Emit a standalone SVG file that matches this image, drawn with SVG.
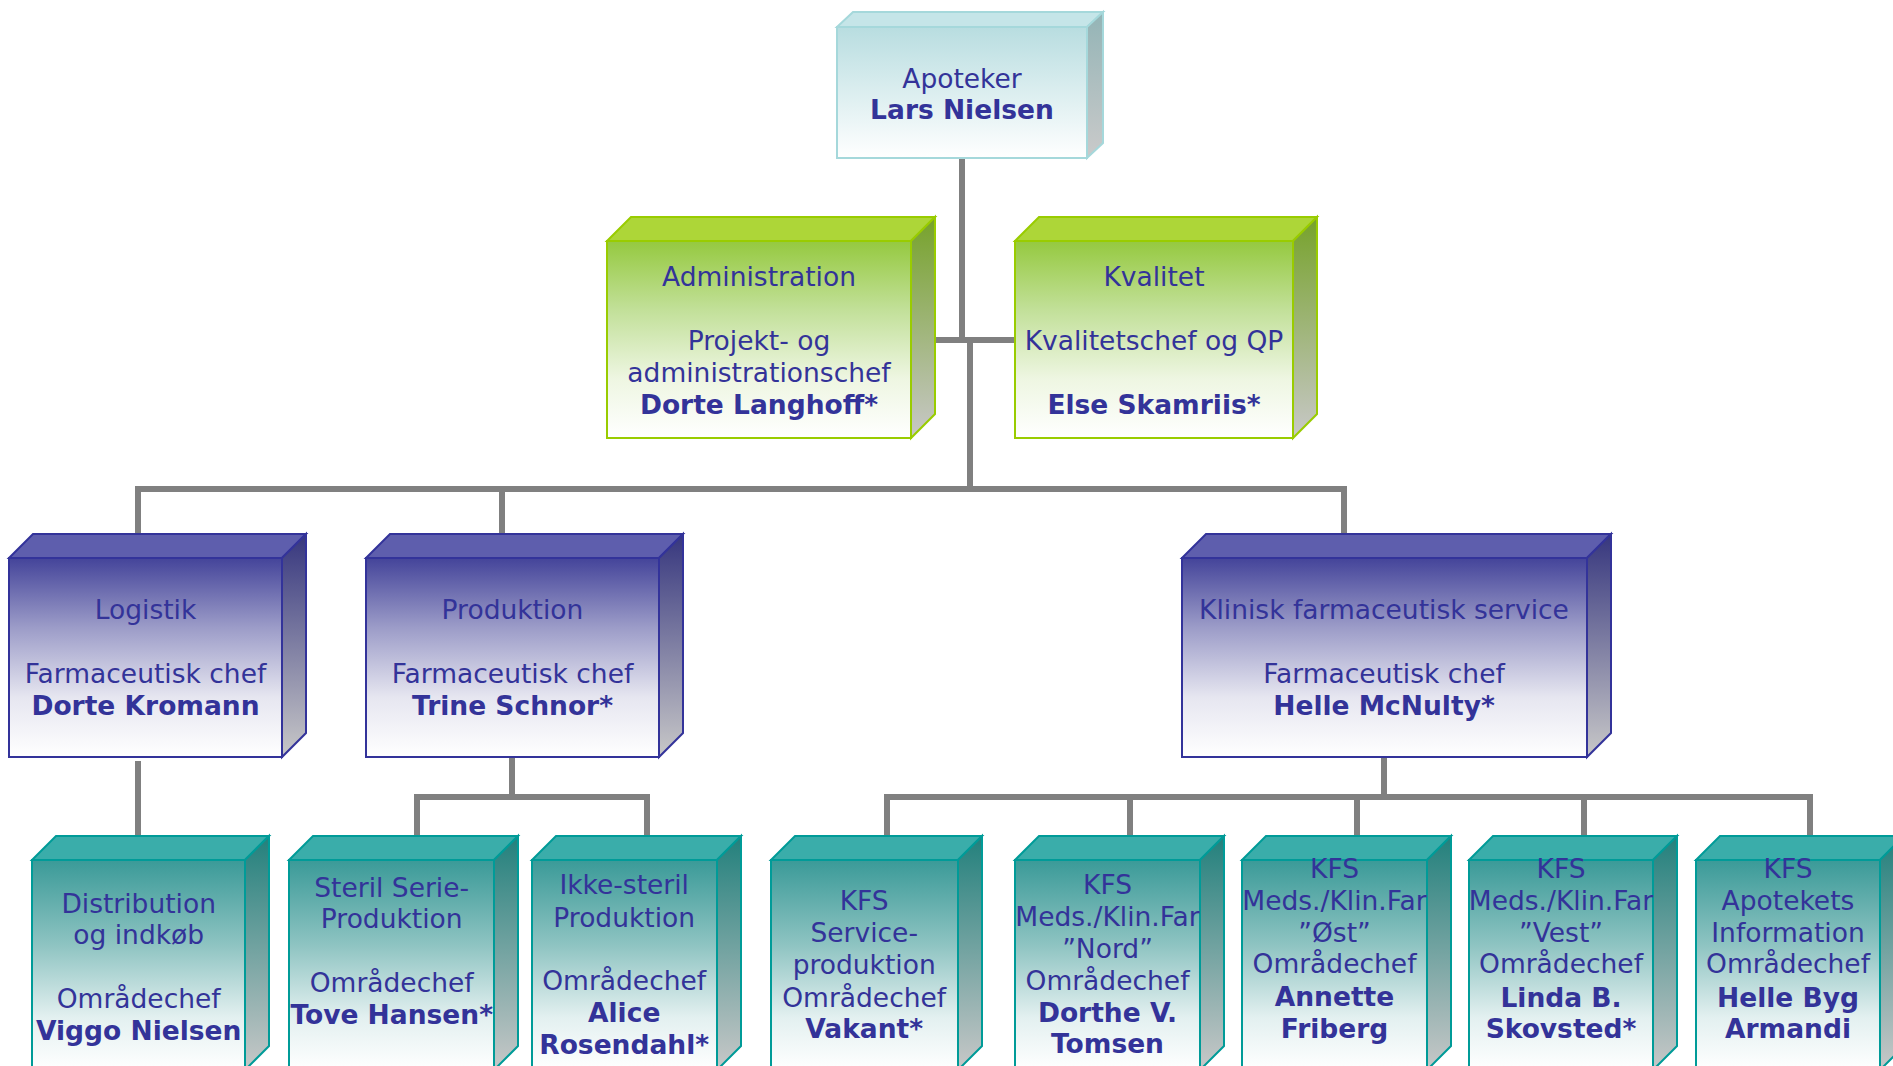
<svg xmlns="http://www.w3.org/2000/svg" width="1893" height="1066" viewBox="0 0 1893 1066">
<defs>
<linearGradient id="fC" x1="0" y1="0" x2="0" y2="1"><stop offset="0" stop-color="#B8DDE0"/><stop offset="1" stop-color="#FFFFFF"/></linearGradient>
<linearGradient id="sC" x1="0" y1="0" x2="0" y2="1"><stop offset="0" stop-color="#93B4B6"/><stop offset="1" stop-color="#CACACA"/></linearGradient>
<linearGradient id="fG" x1="0" y1="0" x2="0" y2="1"><stop offset="0" stop-color="#95C93F"/><stop offset="0.35" stop-color="#C2E099"/><stop offset="0.7" stop-color="#EEF6E2"/><stop offset="1" stop-color="#FFFFFF"/></linearGradient>
<linearGradient id="sG" x1="0" y1="0" x2="0" y2="1"><stop offset="0" stop-color="#76A22A"/><stop offset="1" stop-color="#C8C8C8"/></linearGradient>
<linearGradient id="fB" x1="0" y1="0" x2="0" y2="1"><stop offset="0" stop-color="#44449A"/><stop offset="0.35" stop-color="#9C9CC8"/><stop offset="0.7" stop-color="#E6E6F0"/><stop offset="1" stop-color="#FFFFFF"/></linearGradient>
<linearGradient id="sB" x1="0" y1="0" x2="0" y2="1"><stop offset="0" stop-color="#36367E"/><stop offset="1" stop-color="#C8C8C8"/></linearGradient>
<linearGradient id="fT" x1="0" y1="0" x2="0" y2="1"><stop offset="0" stop-color="#3A9A98"/><stop offset="0.4" stop-color="#8DC3C1"/><stop offset="0.75" stop-color="#E3F0F0"/><stop offset="1" stop-color="#FFFFFF"/></linearGradient>
<linearGradient id="sT" x1="0" y1="0" x2="0" y2="1"><stop offset="0" stop-color="#22807C"/><stop offset="1" stop-color="#C8C8C8"/></linearGradient>
</defs>
<style>
.c { stroke-width: 2; stroke-linejoin: miter; }
.cy { stroke: #A5D8DB; }
.gr { stroke: #99CC00; }
.bl { stroke: #33339A; }
.te { stroke: #009B98; }
.topC { fill: #C5E5E8; } .topG { fill: #ADD638; } .topB { fill: #5E5EAD; } .topT { fill: #3AADAA; }
text { font-family: "DejaVu Sans", Verdana, sans-serif; font-size: 26.5px; fill: #333399; text-anchor: middle; }
.b { font-weight: bold; }
.conn path { fill: none; stroke: #808080; stroke-width: 6; stroke-linejoin: miter; }
</style>
<g class="conn" id="connectors">
<path d="M962,158 V340"/>
<path d="M935,340 H1015"/>
<path d="M970,340 V489"/>
<path d="M138,534 V489 H1344 V534"/>
<path d="M502,489 V534"/>
<path d="M138,761 V836"/>
<path d="M512,757 V797"/>
<path d="M417,836 V797 H647 V836"/>
<path d="M1384,757 V797"/>
<path d="M887,836 V797 H1810 V836"/>
<path d="M1130,797 V836"/>
<path d="M1357,797 V836"/>
<path d="M1584,797 V836"/>
</g>
<g id="apoteker">
<polygon class="c cy topC" points="837,27 853,12 1103,12 1087,27"/>
<polygon class="c cy" fill="url(#sC)" points="1087,27 1103,12 1103,143 1087,158"/>
<rect class="c cy" fill="url(#fC)" x="837" y="27" width="250" height="131"/>
<text x="962" y="88">Apoteker</text>
<text class="b" x="962" y="119">Lars Nielsen</text>
</g>
<g id="administration">
<polygon class="c gr topG" points="607,241 631,217 935,217 911,241"/>
<polygon class="c gr" fill="url(#sG)" points="911,241 935,217 935,414 911,438"/>
<rect class="c gr" fill="url(#fG)" x="607" y="241" width="304" height="197"/>
<text x="759" y="286">Administration</text>
<text x="759" y="350">Projekt- og</text>
<text x="759" y="382">administrationschef</text>
<text class="b" x="759" y="413.5">Dorte Langhoff*</text>
</g>
<g id="kvalitet">
<polygon class="c gr topG" points="1015,241 1039,217 1317,217 1293,241"/>
<polygon class="c gr" fill="url(#sG)" points="1293,241 1317,217 1317,414 1293,438"/>
<rect class="c gr" fill="url(#fG)" x="1015" y="241" width="278" height="197"/>
<text x="1154" y="286">Kvalitet</text>
<text x="1154" y="350">Kvalitetschef og QP</text>
<text class="b" x="1154" y="413.5">Else Skamriis*</text>
</g>
<g id="logistik">
<polygon class="c bl topB" points="9,558 33,534 306,534 282,558"/>
<polygon class="c bl" fill="url(#sB)" points="282,558 306,534 306,733 282,757"/>
<rect class="c bl" fill="url(#fB)" x="9" y="558" width="273" height="199"/>
<text x="145.5" y="619.3">Logistik</text>
<text x="145.5" y="683.3">Farmaceutisk chef</text>
<text class="b" x="145.5" y="715">Dorte Kromann</text>
</g>
<g id="produktion">
<polygon class="c bl topB" points="366,558 390,534 683,534 659,558"/>
<polygon class="c bl" fill="url(#sB)" points="659,558 683,534 683,733 659,757"/>
<rect class="c bl" fill="url(#fB)" x="366" y="558" width="293" height="199"/>
<text x="512.5" y="619.3">Produktion</text>
<text x="512.5" y="683.3">Farmaceutisk chef</text>
<text class="b" x="512.5" y="715">Trine Schnor*</text>
</g>
<g id="kfs">
<polygon class="c bl topB" points="1182,558 1206,534 1611,534 1587,558"/>
<polygon class="c bl" fill="url(#sB)" points="1587,558 1611,534 1611,733 1587,757"/>
<rect class="c bl" fill="url(#fB)" x="1182" y="558" width="405" height="199"/>
<text x="1384" y="619.3">Klinisk farmaceutisk service</text>
<text x="1384" y="683.3">Farmaceutisk chef</text>
<text class="b" x="1384" y="715">Helle McNulty*</text>
</g>
<g id="distribution">
<polygon class="c te topT" points="32,860 56,836 269,836 245,860"/>
<polygon class="c te" fill="url(#sT)" points="245,860 269,836 269,1046 245,1070"/>
<rect class="c te" fill="url(#fT)" x="32" y="860" width="213" height="210"/>
<text x="138.7" y="912.7">Distribution</text>
<text x="138.7" y="944.3">og indkøb</text>
<text x="138.7" y="1008.3">Områdechef</text>
<text class="b" x="138.7" y="1040">Viggo Nielsen</text>
</g>
<g id="steril">
<polygon class="c te topT" points="289,860 313,836 518,836 494,860"/>
<polygon class="c te" fill="url(#sT)" points="494,860 518,836 518,1046 494,1070"/>
<rect class="c te" fill="url(#fT)" x="289" y="860" width="205" height="210"/>
<text x="391.7" y="896.7">Steril Serie-</text>
<text x="391.7" y="928.3">Produktion</text>
<text x="391.7" y="991.7">Områdechef</text>
<text class="b" x="391.7" y="1024">Tove Hansen*</text>
</g>
<g id="ikke-steril">
<polygon class="c te topT" points="532,860 556,836 741,836 717,860"/>
<polygon class="c te" fill="url(#sT)" points="717,860 741,836 741,1046 717,1070"/>
<rect class="c te" fill="url(#fT)" x="532" y="860" width="185" height="210"/>
<text x="624.2" y="894.3">Ikke-steril</text>
<text x="624.2" y="926.7">Produktion</text>
<text x="624.2" y="990">Områdechef</text>
<text class="b" x="624.2" y="1022.3">Alice</text>
<text class="b" x="624.2" y="1054">Rosendahl*</text>
</g>
<g id="kfs-service">
<polygon class="c te topT" points="771,860 795,836 982,836 958,860"/>
<polygon class="c te" fill="url(#sT)" points="958,860 982,836 982,1046 958,1070"/>
<rect class="c te" fill="url(#fT)" x="771" y="860" width="187" height="210"/>
<text x="864.2" y="910">KFS</text>
<text x="864.2" y="942.3">Service-</text>
<text x="864.2" y="974.3">produktion</text>
<text x="864.2" y="1006.7">Områdechef</text>
<text class="b" x="864.2" y="1037.7">Vakant*</text>
</g>
<g id="kfs-nord">
<polygon class="c te topT" points="1015,860 1039,836 1224,836 1200,860"/>
<polygon class="c te" fill="url(#sT)" points="1200,860 1224,836 1224,1046 1200,1070"/>
<rect class="c te" fill="url(#fT)" x="1015" y="860" width="185" height="210"/>
<text x="1107.5" y="894">KFS</text>
<text x="1107.5" y="925.7">Meds./Klin.Far</text>
<text x="1107.5" y="958">”Nord”</text>
<text x="1107.5" y="990">Områdechef</text>
<text class="b" x="1107.5" y="1021.7">Dorthe V.</text>
<text class="b" x="1107.5" y="1053.3">Tomsen</text>
</g>
<g id="kfs-oest">
<polygon class="c te topT" points="1242,860 1266,836 1451,836 1427,860"/>
<polygon class="c te" fill="url(#sT)" points="1427,860 1451,836 1451,1046 1427,1070"/>
<rect class="c te" fill="url(#fT)" x="1242" y="860" width="185" height="210"/>
<text x="1334.5" y="878.3">KFS</text>
<text x="1334.5" y="910">Meds./Klin.Far</text>
<text x="1334.5" y="942.3">”Øst”</text>
<text x="1334.5" y="973.3">Områdechef</text>
<text class="b" x="1334.5" y="1005.7">Annette</text>
<text class="b" x="1334.5" y="1037.7">Friberg</text>
</g>
<g id="kfs-vest">
<polygon class="c te topT" points="1469,860 1493,836 1677,836 1653,860"/>
<polygon class="c te" fill="url(#sT)" points="1653,860 1677,836 1677,1046 1653,1070"/>
<rect class="c te" fill="url(#fT)" x="1469" y="860" width="184" height="210"/>
<text x="1561" y="878.3">KFS</text>
<text x="1561" y="910">Meds./Klin.Far</text>
<text x="1561" y="942.3">”Vest”</text>
<text x="1561" y="973.3">Områdechef</text>
<text class="b" x="1561" y="1006.7">Linda B.</text>
<text class="b" x="1561" y="1038.3">Skovsted*</text>
</g>
<g id="kfs-information">
<polygon class="c te topT" points="1696,860 1720,836 1904,836 1880,860"/>
<polygon class="c te" fill="url(#sT)" points="1880,860 1904,836 1904,1046 1880,1070"/>
<rect class="c te" fill="url(#fT)" x="1696" y="860" width="184" height="210"/>
<text x="1788" y="878.3">KFS</text>
<text x="1788" y="910">Apotekets</text>
<text x="1788" y="942.3">Information</text>
<text x="1788" y="973.3">Områdechef</text>
<text class="b" x="1788" y="1006.7">Helle Byg</text>
<text class="b" x="1788" y="1038.3">Armandi</text>
</g>
</svg>
